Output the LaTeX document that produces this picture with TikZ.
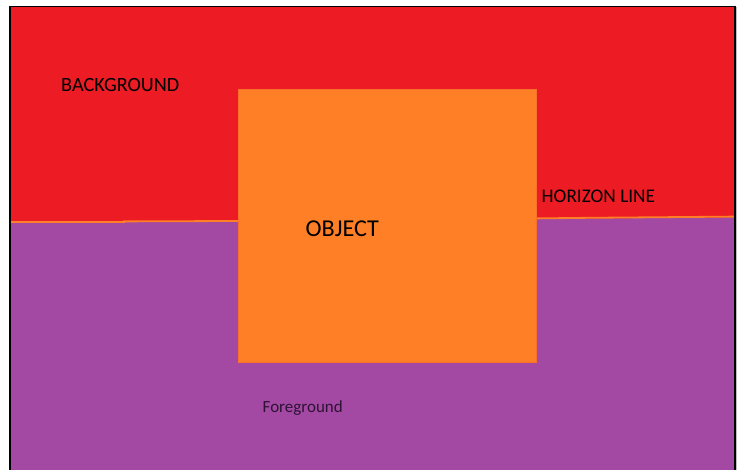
\documentclass[tikz,border=0pt]{standalone}
\usepackage{fontspec}
\setmainfont{Carlito}
\definecolor{bgred}{HTML}{ED1C24}
\definecolor{fgpurple}{HTML}{A349A4}
\definecolor{objorange}{HTML}{FF7F27}
\definecolor{objedge}{HTML}{F8702A}
\definecolor{fgtext}{HTML}{2E1233}
\begin{document}
\begin{tikzpicture}[x=1pt,y=-1pt,
  lbl/.style={inner sep=0pt,anchor=base west,text=black},
  framebar/.style={draw=black,line width=1.6pt}]
\useasboundingbox (0,0) rectangle (745,470);
\fill[white] (0,0) rectangle (745,470);
% background
\fill[bgred] (10,6.5) rectangle (735,470);
% foreground below horizon
\fill[fgpurple] (10,222.8) -- (124,222.8) -- (124,222.2) -- (238,221.8)
  -- (536,219.2) -- (590,218.6) -- (735,217.4) -- (735,470) -- (10,470) -- cycle;
% horizon line
\draw[objorange,line width=1.8pt] (10,222) -- (124,222) -- (124,221.4) -- (238,221)
  -- (536,218.4) -- (590,217.8) -- (735,216.6);
% object
\filldraw[fill=objorange,draw=objedge,line width=0.8pt] (238,89) rectangle (536,362);
% frame
\draw[framebar] (9.9,470) -- (9.9,6.4) -- (734.8,6.4) -- (734.8,470);
\draw[gray!50,line width=0.8pt] (736.7,7) -- (736.7,470);
% labels
\node[lbl,font=\fontsize{20.2}{24}\selectfont] (bg) at (61,91.7) {BACKGROUND};
\node[lbl,font=\fontsize{19.3}{23}\selectfont] (hz) at (541.5,203) {HORIZON LINE};
\node[lbl,font=\fontsize{24.2}{29}\selectfont] (obj) at (305.5,237) {OBJECT};
\node[lbl,font=\fontsize{17}{20}\selectfont,text=fgtext] (fg) at (262.5,413) {Foreground};
\end{tikzpicture}
\end{document}
